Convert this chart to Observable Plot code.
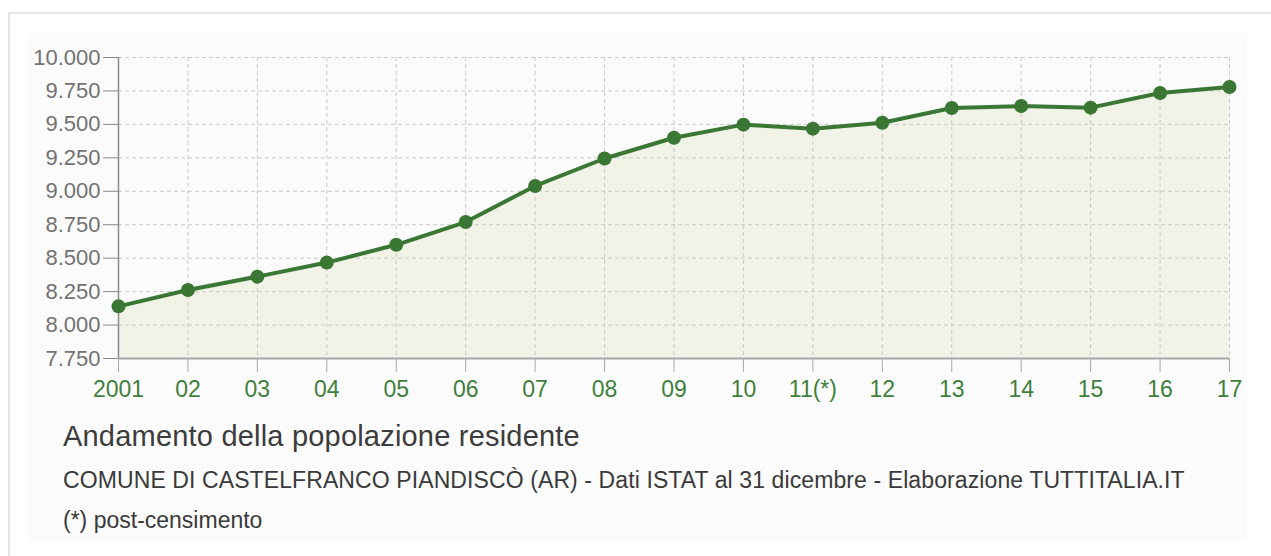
<!DOCTYPE html>
<html>
<head>
<meta charset="utf-8">
<script src="https://cdn.jsdelivr.net/npm/d3@7"></script>
<script src="https://cdn.jsdelivr.net/npm/@observablehq/plot@0.6"></script>
<style>
  html, body { margin: 0; padding: 0; background: #ffffff; }
  #wrap { position: relative; width: 1271px; height: 556px; overflow: hidden; font-family: "Liberation Sans", Arial, Helvetica, sans-serif; }
  #frame { position: absolute; left: 8px; top: 12px; width: 1300px; height: 600px; border-top: 2px solid #e4e4e4; border-left: 2px solid #e4e4e4; }
  #panel { position: absolute; left: 27px; top: 33px; width: 1220px; height: 508px; background: #fbfbfb; }
  #chart { position: absolute; left: 0; top: 0; }
  .txt { position: absolute; left: 63px; white-space: nowrap; line-height: 1; }
  #title { top: 422px; font-size: 29px; letter-spacing: 0.2px; color: #3c3c3c; }
  #subtitle { top: 469px; font-size: 23px; letter-spacing: 0.1px; color: #3a3a3a; }
  #note { top: 509px; font-size: 23px; color: #3a3a3a; }
</style>
</head>
<body>
<div id="wrap">
  <div id="frame"></div>
  <div id="panel"></div>
  <div id="chart"></div>
  <div class="txt" id="title">Andamento della popolazione residente</div>
  <div class="txt" id="subtitle">COMUNE DI CASTELFRANCO PIANDISCÒ (AR) - Dati ISTAT al 31 dicembre - Elaborazione TUTTITALIA.IT</div>
  <div class="txt" id="note">(*) post-censimento</div>
</div>
<script>
const years = [2001, 2002, 2003, 2004, 2005, 2006, 2007, 2008, 2009, 2010, 2011, 2012, 2013, 2014, 2015, 2016, 2017];
const yearLabels = ["2001", "02", "03", "04", "05", "06", "07", "08", "09", "10", "11(*)", "12", "13", "14", "15", "16", "17"];
const population = [8140, 8262, 8362, 8467, 8600, 8770, 9040, 9245, 9400, 9498, 9468, 9512, 9622, 9637, 9625, 9735, 9780];
const yTicks = [7750, 8000, 8250, 8500, 8750, 9000, 9250, 9500, 9750, 10000];

const data = years.map((year, i) => ({year, value: population[i]}));
const it = d3.formatLocale({decimal: ",", thousands: ".", grouping: [3], currency: ["€", ""]});
const fmt = it.format(",");
const green = "#3a7734";

const chart = Plot.plot({
  width: 1271,
  height: 400,
  marginLeft: 118,
  marginRight: 42,
  marginTop: 57,
  marginBottom: 42,
  style: {background: "transparent", fontFamily: "'Liberation Sans', Arial, Helvetica, sans-serif", overflow: "visible"},
  x: {domain: [2001, 2017]},
  y: {domain: [7750, 10000]},
  marks: [
    Plot.areaY(data, {x: "year", y1: 7750, y2: "value", fill: "#f1f3e7"}),
    Plot.gridX(years, {stroke: "#c9c9c9", strokeOpacity: 1, strokeDasharray: "4,3"}),
    Plot.gridY(yTicks, {stroke: "#c9c9c9", strokeOpacity: 1, strokeDasharray: "4,3"}),
    Plot.ruleX([2001], {stroke: "#8a8a8a", strokeWidth: 1.5}),
    Plot.ruleY([7750], {stroke: "#a8a8a8", strokeWidth: 2}),
    Plot.axisY(yTicks, {tickSize: 15, tickPadding: 3, fontSize: 22, fill: "#727272", stroke: "#8a8a8a", tickFormat: fmt, label: null}),
    Plot.axisX(years, {tickSize: 14, tickPadding: 8, fontSize: 23, fill: "#3f7f3c", stroke: "#a8a8a8", tickFormat: d => yearLabels[years.indexOf(d)], label: null}),
    Plot.line(data, {x: "year", y: "value", stroke: green, strokeWidth: 4}),
    Plot.dot(data, {x: "year", y: "value", r: 7, fill: green})
  ]
});
document.getElementById("chart").appendChild(chart);
</script>
</body>
</html>
